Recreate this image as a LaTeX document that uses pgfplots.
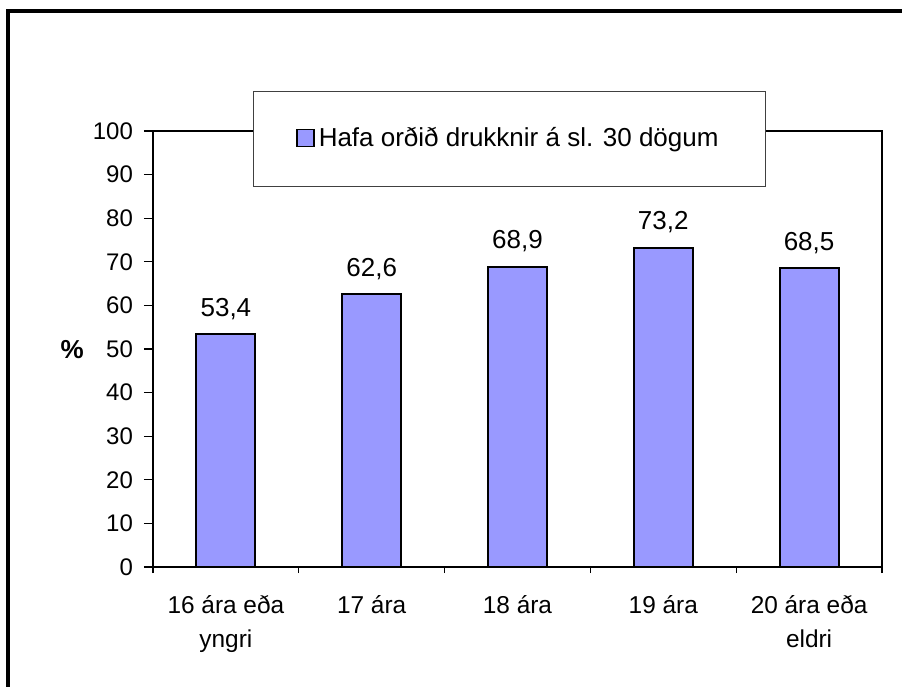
\documentclass[border=0pt]{standalone}
\usepackage{pgfplots}
\pgfplotsset{compat=1.18}
\usepackage{fontspec}
\setmainfont{Liberation Sans}
\definecolor{barblue}{HTML}{9999FF}
\begin{document}
\begin{tikzpicture}
\path[use as bounding box] (0pt,0pt) rectangle (451pt,343.5pt);
\draw[line width=2pt] (4pt,0pt) -- (4pt,338pt) -- (451pt,338pt);
\begin{axis}[
  at={(76.5pt,60pt)}, anchor=south west,
  scale only axis, width=364.5pt, height=218pt,
  ymin=0, ymax=100, ytick={0,10,...,100},
  xmin=-0.5, xmax=4.5,
  xtick={0,1,2,3,4},
  xticklabels={{16 ára eða\\yngri},{17 ára},{18 ára},{19 ára},{20 ára eða\\eldri}},
  xticklabel style={align=center, yshift=-6pt, font=\fontsize{12.2}{17}\selectfont},
  yticklabel style={font=\fontsize{12}{14}\selectfont, xshift=-2pt},
  major x tick style={draw=none},
  minor xtick={-0.5,0.5,1.5,2.5,3.5,4.5},
  minor tick length=3pt,
  major tick length=4.5pt,
  tick align=outside,
  tick style={black, line width=0.6pt},
  xtick pos=bottom, ytick pos=left,
  axis line style={line width=1pt},
  /pgf/number format/assume math mode=true,
  /pgf/number format/use comma,
  ylabel={\textbf{\%}},
  ylabel style={rotate=-90, at={(axis description cs:-0.111,0.498)}, anchor=center, font=\fontsize{13}{15}\selectfont},
  legend style={at={(axis description cs:0.489,0.982)}, anchor=center,
    draw=black!75, line width=0.6pt, fill=white,
    inner xsep=21.5pt, inner ysep=16.3pt,
    font=\fontsize{13}{15}\selectfont},
  legend image code/.code={\draw[#1, line width=0.7pt] (0pt,-3.8pt) rectangle (8.5pt,4.7pt);},
  legend cell align=left,
]
\addplot[ybar, bar width=29.5pt, fill=barblue, draw=black, line width=1pt,
  nodes near coords,
  nodes near coords style={font=\fontsize{13}{15}\selectfont, yshift=3.5pt, /pgf/number format/.cd, fixed, fixed zerofill, precision=1, use comma, assume math mode=true},
] coordinates {(0,53.4) (1,62.6) (2,68.9) (3,73.2) (4,68.5)};
\addlegendentry{Hafa orðið drukknir á sl. 30 dögum}
\end{axis}
\end{tikzpicture}
\end{document}
